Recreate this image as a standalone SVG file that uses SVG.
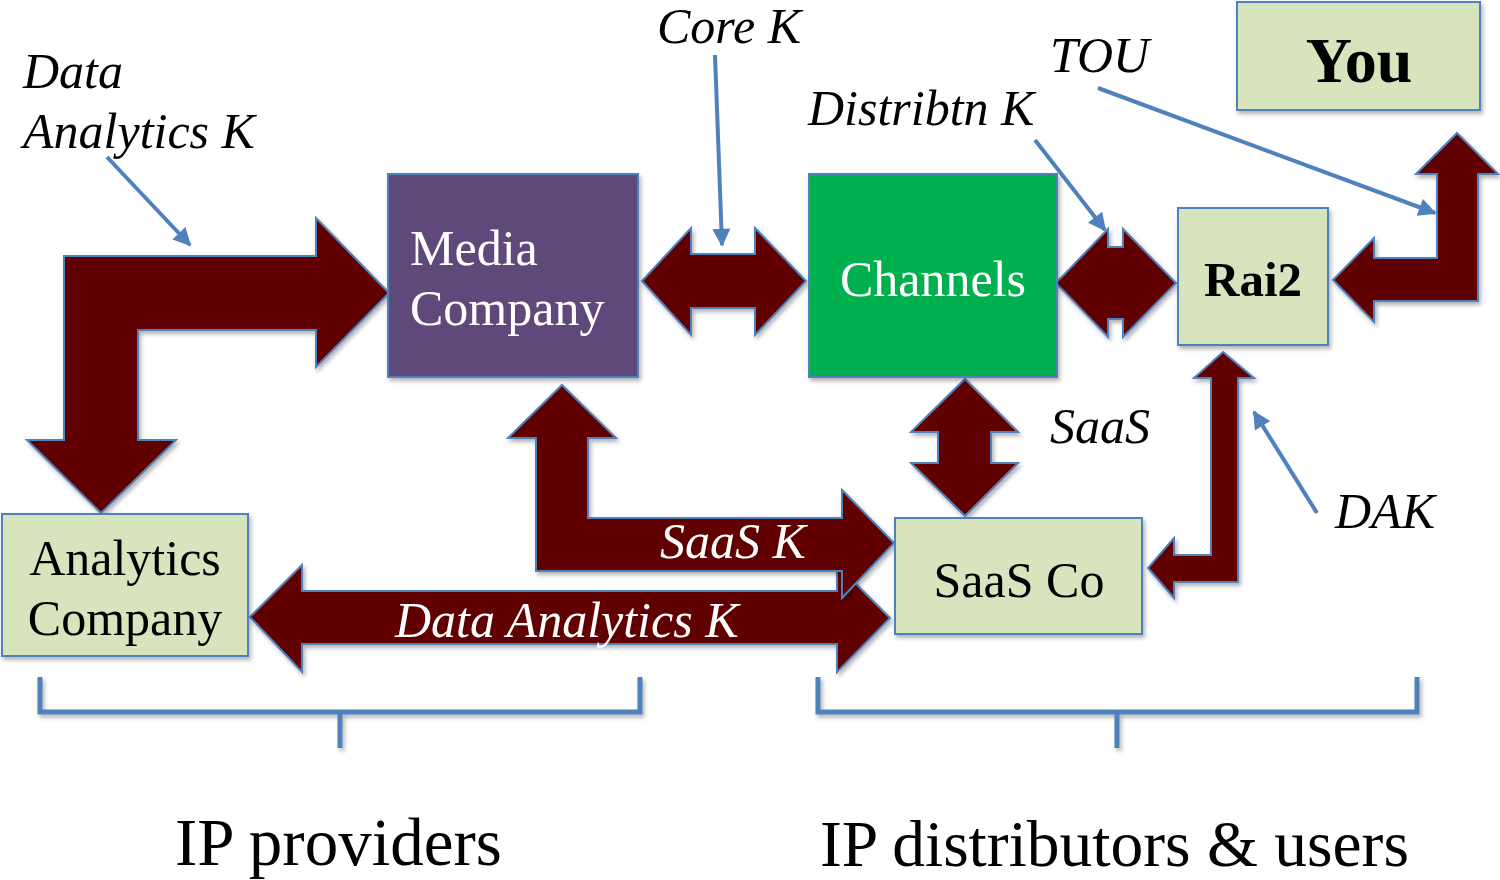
<svg xmlns="http://www.w3.org/2000/svg" width="1500" height="880" viewBox="0 0 1500 880">
<defs>
<filter id="sh" x="-10%" y="-10%" width="130%" height="130%">
<feDropShadow dx="2" dy="3" stdDeviation="2" flood-color="#000" flood-opacity="0.3"/>
</filter>
<marker id="ah" viewBox="0 0 10 10" refX="9" refY="5" markerWidth="5.5" markerHeight="4.5" orient="auto" markerUnits="strokeWidth">
<path d="M0,0 L10,5 L0,10 Z" fill="#4F81BD"/>
</marker>
</defs>
<style>
.box{stroke:#4F81BD;stroke-width:2;filter:url(#sh)}
.big{fill:#600000;stroke:#4F81BD;stroke-width:2;stroke-linejoin:miter;filter:url(#sh)}
.ptr{fill:none;stroke:#4F81BD;stroke-width:4;marker-end:url(#ah)}
.brk{fill:none;stroke:#4F81BD;stroke-width:5;filter:url(#sh)}
text{font-family:"Liberation Serif","Times New Roman",serif}
.lbl{font-size:50px;font-style:italic;fill:#000}
.wl{font-size:50px;font-style:italic;fill:#fff}
.nt{font-size:50px}
</style>
<rect width="1500" height="880" fill="#fff"/>
<g id="connectors">
<path id="arr-da" class="big" d="M250,617 L302,565 L302,591 L837,591 L837,565 L890,618 L837,672 L837,644 L302,644 L302,672 Z"/>
<path id="arr-saask" class="big" d="M562,385 L616,438 L588,438 L588,518 L842,518 L842,490 L894,543 L842,598 L842,571 L536,571 L536,438 L508,438 Z"/>
<path id="arr-dak-top" class="big" d="M64,256 L316,256 L316,218 L389,293 L316,367 L316,330 L138,330 L138,440 L176,440 L101,513 L27,440 L64,440 Z"/>
<path id="arr-core" class="big" d="M642,281 L691,228 L691,254 L755,254 L755,228 L806,281 L755,335 L755,308 L691,308 L691,335 Z"/>
<path id="arr-dist" class="big" d="M1056,283 L1108,229 L1108,247 L1123,247 L1123,229 L1176,283 L1123,337 L1123,319 L1108,319 L1108,337 Z"/>
<path id="arr-you" class="big" d="M1333,280 L1374,238 L1374,258 L1437,258 L1437,174 L1416,174 L1457,133 L1498,174 L1478,174 L1478,301 L1374,301 L1374,322 Z"/>
<path id="arr-rai2-saas" class="big" d="M1223,352 L1254,378 L1238,378 L1238,582 L1174,582 L1174,598 L1148,568 L1174,538 L1174,555 L1211,555 L1211,378 L1194,378 Z"/>
<path id="arr-saas" class="big" d="M965,379 L1018,432 L991,432 L991,463 L1018,463 L965,516 L911,463 L938,463 L938,432 L911,432 Z"/>
<line class="ptr" x1="107" y1="157" x2="190" y2="245"/>
<line class="ptr" x1="715" y1="55" x2="722" y2="245"/>
<line class="ptr" x1="1035" y1="140" x2="1105" y2="230"/>
<line class="ptr" x1="1098" y1="88" x2="1435" y2="213"/>
<line class="ptr" x1="1317" y1="513" x2="1254" y2="412"/>
<path class="brk" d="M40,677 L40,712 L640,712 L640,677 M340,712 L340,748"/>
<path class="brk" d="M818,677 L818,712 L1417,712 L1417,677 M1117,712 L1117,748"/>
</g>
<text class="wl" x="660" y="558">SaaS K</text>
<text class="wl" x="395" y="637">Data Analytics K</text>
<g id="media">
<rect class="box" x="388" y="174" width="250" height="203" fill="#5F497A"/>
<text class="nt" x="410" y="265" fill="#fff">Media</text>
<text class="nt" x="410" y="325" fill="#fff">Company</text>
</g>
<g id="channels">
<rect class="box" x="809" y="174" width="248" height="203" fill="#00B050"/>
<text class="nt" x="933" y="296" fill="#fff" text-anchor="middle">Channels</text>
</g>
<g id="rai2">
<rect class="box" x="1178" y="208" width="150" height="137" fill="#D7E4BD"/>
<text x="1253" y="296" font-size="49" font-weight="bold" text-anchor="middle">Rai2</text>
</g>
<g id="you">
<rect class="box" x="1237" y="2" width="243" height="108" fill="#D7E4BD"/>
<text x="1359" y="82" font-size="64" font-weight="bold" text-anchor="middle">You</text>
</g>
<g id="analytics">
<rect class="box" x="2" y="514" width="246" height="142" fill="#D7E4BD"/>
<text class="nt" x="125" y="575" text-anchor="middle">Analytics</text>
<text class="nt" x="125" y="635" text-anchor="middle">Company</text>
</g>
<g id="saasco">
<rect class="box" x="895" y="518" width="247" height="116" fill="#D7E4BD"/>
<text class="nt" x="1019" y="597" text-anchor="middle">SaaS Co</text>
</g>
<g id="labels">
<text class="lbl" x="23" y="88">Data</text>
<text class="lbl" x="23" y="148">Analytics K</text>
<text class="lbl" x="657" y="43">Core K</text>
<text class="lbl" x="1050" y="72">TOU</text>
<text class="lbl" x="808" y="125">Distribtn K</text>
<text class="lbl" x="1050" y="443">SaaS</text>
<text class="lbl" x="1335" y="528">DAK</text>
<text x="175" y="865" font-size="67">IP providers</text>
<text x="820" y="866" font-size="65.5">IP distributors &amp; users</text>
</g>
</svg>
